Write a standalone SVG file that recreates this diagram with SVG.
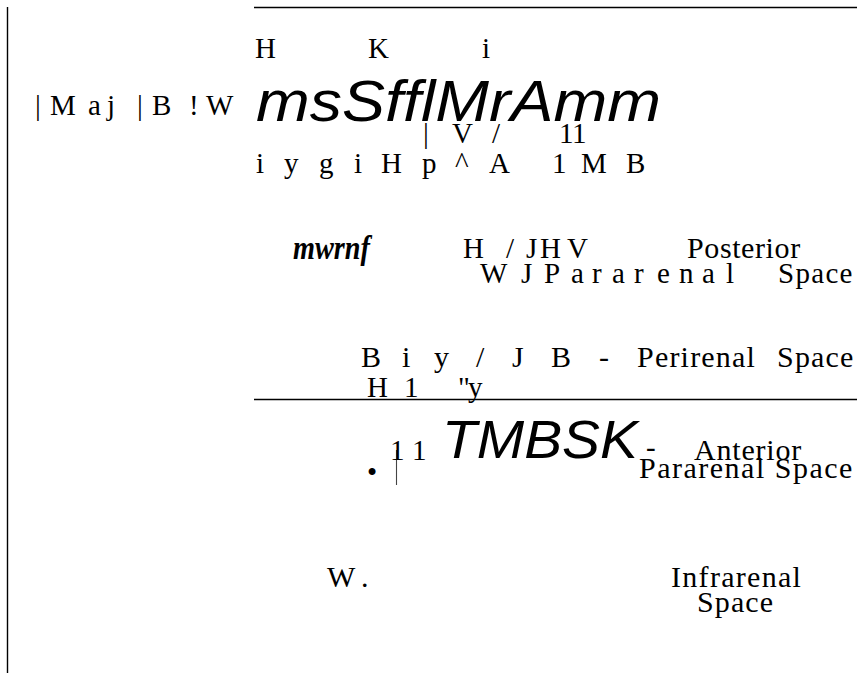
<svg xmlns="http://www.w3.org/2000/svg" width="857" height="675" viewBox="0 0 857 675">
  <style>
    .rule { stroke: #000; stroke-width: 1.4; fill: none; }
    .thin { stroke: #444; stroke-width: 1.1; }
    .s { font-family: "Liberation Serif", "Times New Roman", serif; fill: #000; font-size: 29px; }
    .s30 { font-size: 30px; }
    .big { font-family: "Liberation Sans", Arial, sans-serif; font-style: italic; fill: #000; }
    .bi { font-family: "Liberation Serif", "Times New Roman", serif; font-style: italic; font-weight: bold; font-size: 33px; fill: #000; }
  </style>
  <rect width="857" height="675" fill="#fff"/>

  <!-- frame rules -->
  <g id="connectors">
    <line class="rule" x1="7.5" y1="7" x2="7.5" y2="673"/>
    <line class="rule" x1="254" y1="7.5" x2="857" y2="7.5"/>
    <line class="rule" x1="254" y1="399.5" x2="857" y2="399.5"/>
  </g>

  <!-- upper block -->
  <g id="upper-block">
    <text class="s" x="255 276 368 390 482" y="58">H K i</text>
    <text class="s" x="35 42 50 80 88 100 107 118 137 146 152 173 189 198 206" y="115">| M a j | B ! W</text>
    <text class="big" font-size="57" x="256" y="121" textLength="405" lengthAdjust="spacingAndGlyphs">msSfflMrAmm</text>
    <text class="s" x="423 430 452 473 492 505 559 572" y="143">| V / 11</text>
    <text class="s" x="256 265 284 298 319 333 354 363 381 402 422 437 455 471 489 509 552 564 581 607 626" y="173">i y g i H p ^ A 1 M B</text>
  </g>

  <!-- posterior pararenal space -->
  <g id="posterior-pararenal">
    <text class="bi" x="293" y="259" textLength="77" lengthAdjust="spacingAndGlyphs">mwrnf</text>
    <text class="s" x="463 484 506 516 526 537 540 559 567" y="258">H / J H V</text>
    <text class="s s30" x="687" y="258" letter-spacing="0.6">Posterior</text>
    <text class="s" x="480 501 521 532 544 561 571 584 592 604 612 625 634 646 657 670 679 694 702 715 726" y="283">W J P a r a r e n a l <tspan x="778" letter-spacing="1.3">Space</tspan></text>
  </g>

  <!-- perirenal space -->
  <g id="perirenal">
    <text class="s s30" x="361 381 402 411 434 449 476 486 512 524 551 572 599" y="367">B i y / J B - <tspan x="637" letter-spacing="1.2">Perirenal</tspan> <tspan x="777" letter-spacing="1.2">Space</tspan></text>
    <text class="s" x="367 388 404 416 458 468" y="397">H 1 "y</text>
  </g>

  <!-- anterior pararenal space -->
  <g id="anterior-pararenal">
    <text class="s" font-size="32" x="367" y="482">•</text>
    <line class="thin" x1="396.5" y1="450" x2="396.5" y2="485"/>
    <text class="s" x="390 402 412" y="460">1 1</text>
    <text class="big" font-size="54" x="442" y="458" textLength="196" lengthAdjust="spacingAndGlyphs">TMBSK</text>
    <text class="s" x="646" y="457">-</text>
    <text class="s s30" x="694" y="460" letter-spacing="0.8">Anterior</text>
    <text class="s s30" x="639" y="478" letter-spacing="1.5">Pararenal Space</text>
  </g>

  <!-- infrarenal space -->
  <g id="infrarenal">
    <text class="s s30" x="327 352 361" y="587">W .</text>
    <text class="s s30" x="671" y="587" letter-spacing="1.3">Infrarenal</text>
    <text class="s s30" x="697" y="612" letter-spacing="1.1">Space</text>
  </g>
</svg>
